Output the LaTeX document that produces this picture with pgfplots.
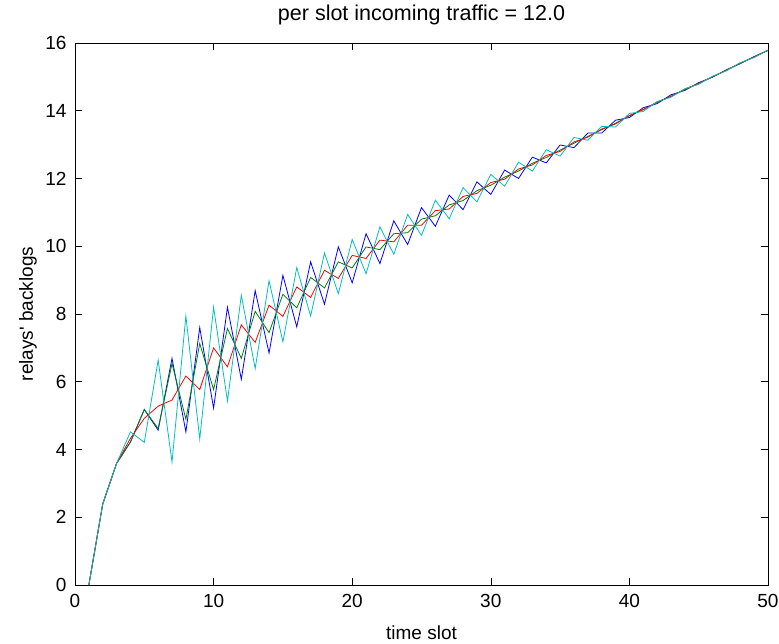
\documentclass[border=0pt]{standalone}
\usepackage{fontspec}
\setmainfont{Liberation Sans}
\usepackage{pgfplots}
\pgfplotsset{compat=1.18}
\usepackage{pgfplotstable}
\definecolor{mblue}{rgb}{0,0,1}
\definecolor{mgreen}{rgb}{0,0.5,0}
\definecolor{mred}{rgb}{1,0,0}
\definecolor{mcyan}{rgb}{0,0.75,0.75}
\pgfplotstableread{
t blue green red cyan
1 0 0 0 0
2 2.39 2.39 2.39 2.39
3 3.59 3.59 3.59 3.59
4 4.22 4.22 4.33 4.52
5 5.18 5.18 4.92 4.21
6 4.57 4.62 5.28 6.64
7 6.69 6.54 5.46 3.63
8 4.52 4.89 6.17 7.94
9 7.60 7.13 5.77 4.31
10 5.22 5.77 7.00 8.20
11 8.20 7.57 6.44 5.43
12 6.07 6.69 7.68 8.55
13 8.69 8.08 7.16 6.39
14 6.85 7.45 8.26 8.98
15 9.14 8.58 7.93 7.18
16 7.62 8.18 8.80 9.37
17 9.54 9.08 8.49 7.94
18 8.29 8.77 9.29 9.80
19 9.98 9.54 9.05 8.60
20 8.92 9.36 9.73 10.20
21 10.37 9.98 9.64 9.19
22 9.49 9.90 10.18 10.57
23 10.75 10.37 10.13 9.76
24 10.05 10.40 10.62 10.94
25 11.14 10.80 10.62 10.32
26 10.59 10.90 11.05 11.36
27 11.51 11.22 11.10 10.81
28 11.08 11.35 11.47 11.73
29 11.90 11.64 11.56 11.31
30 11.53 11.80 11.88 12.12
31 12.25 12.04 11.98 11.77
32 12.00 12.22 12.28 12.48
33 12.63 12.45 12.40 12.22
34 12.46 12.62 12.68 12.85
35 12.99 12.84 12.80 12.66
36 12.91 13.04 13.08 13.21
37 13.34 13.24 13.22 13.13
38 13.34 13.44 13.46 13.54
39 13.72 13.63 13.61 13.52
40 13.80 13.85 13.86 13.92
41 14.09 14.04 14.03 13.98
42 14.21 14.24 14.26 14.27
43 14.47 14.43 14.42 14.40
44 14.60 14.62 14.64 14.65
45 14.83 14.81 14.80 14.78
46 14.99 15.00 15.01 15.02
47 15.21 15.20 15.19 15.18
48 15.39 15.40 15.41 15.42
49 15.60 15.59 15.58 15.57
50 15.78 15.78 15.79 15.79
}\datatable
\begin{document}
\begin{tikzpicture}
\path[use as bounding box] (0,0) rectangle (779pt,644pt);
\begin{axis}[
 at={(75pt,59pt)}, anchor=south west,
 width=693pt, height=542pt, scale only axis,
 xmin=0, xmax=50, ymin=0, ymax=16,
 xtick={0,10,...,50}, ytick={0,2,...,16},
 tick align=inside,
 major tick length=7pt,
 tick style={black, line width=0.6pt},
 axis line style={black, line width=0.9pt},
 font=\fontsize{19}{22}\selectfont,
 /pgf/number format/assume math mode=true,
 xticklabel style={yshift=-6pt},
 yticklabel style={xshift=-5pt},
 title={per slot incoming traffic = 12.0},
 xlabel={time slot},
 ylabel={relays\textquotesingle\ backlogs},
 every axis title/.style={at={(axis description cs:0.5,1.052)}, anchor=center, font=\fontsize{21.5}{25}\selectfont},
 every axis x label/.style={at={(axis description cs:0.5,-0.088)}, anchor=center},
 every axis y label/.style={at={(axis description cs:-0.068,0.5)}, rotate=90, anchor=center},
 every axis plot/.append style={line width=0.8pt},
]
\addplot[mblue, no markers] table[x=t, y=blue] {\datatable};
\addplot[mgreen, no markers] table[x=t, y=green] {\datatable};
\addplot[mred, no markers] table[x=t, y=red] {\datatable};
\addplot[mcyan, no markers] table[x=t, y=cyan] {\datatable};
\end{axis}
\end{tikzpicture}
\end{document}
